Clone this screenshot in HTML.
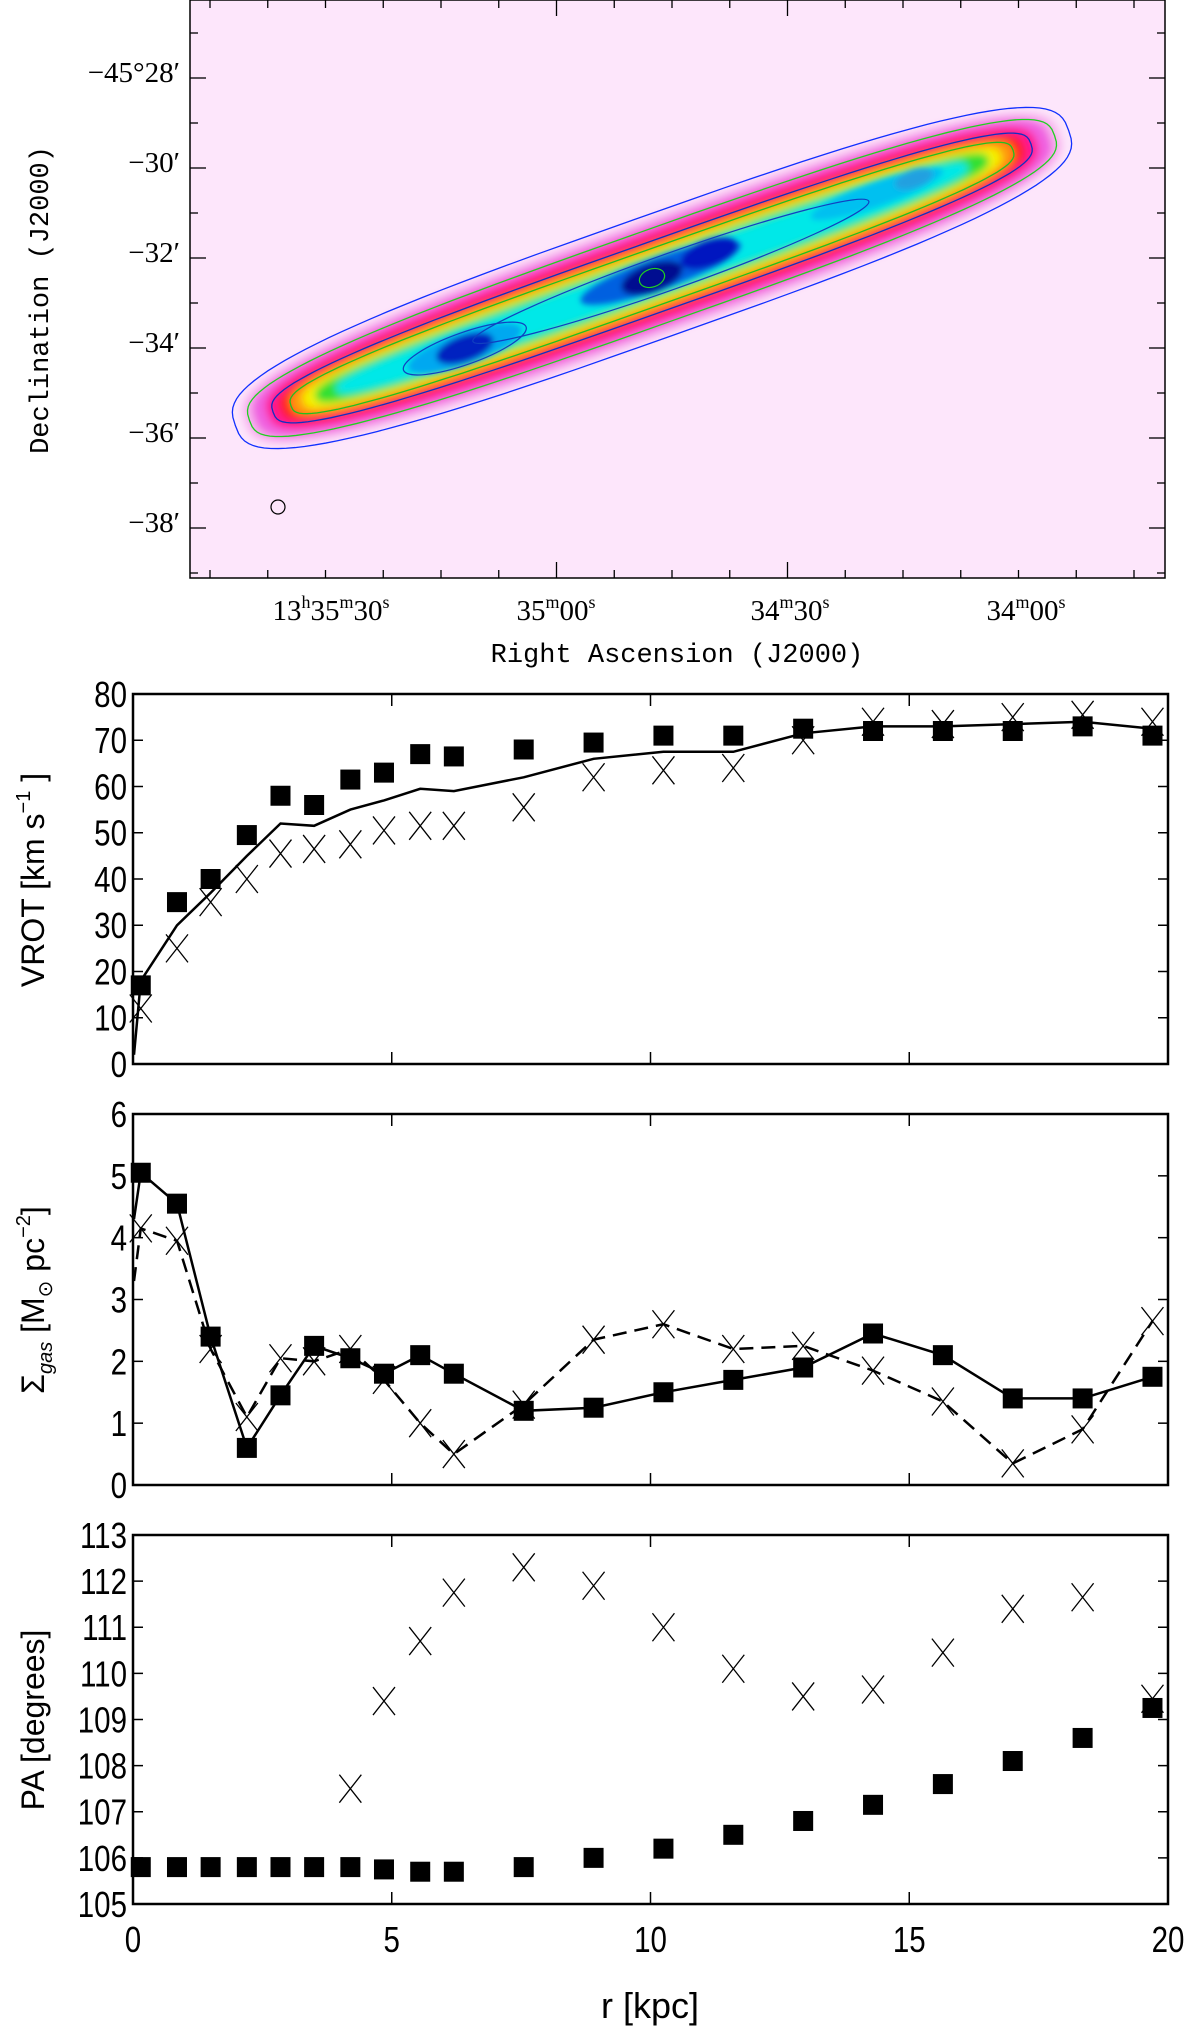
<!DOCTYPE html>
<html><head><meta charset="utf-8">
<style>
html,body{margin:0;padding:0;background:#fff;}
body{width:1200px;height:2034px;overflow:hidden;font-family:"Liberation Sans",sans-serif;}
svg{position:absolute;left:0;top:0;}
</style></head>
<body>
<svg id="fig" width="1200" height="2034" viewBox="0 0 1200 2034" xmlns="http://www.w3.org/2000/svg">
<defs>
 <filter id="blur" x="-20%" y="-80%" width="140%" height="260%"><feGaussianBlur stdDeviation="4"/></filter>
 <filter id="blur2" x="-20%" y="-80%" width="140%" height="260%"><feGaussianBlur stdDeviation="3"/></filter>
 <clipPath id="mapclip"><rect x="190" y="0" width="975" height="578"/></clipPath>
</defs>
<g id="map">
 <rect x="190" y="0" width="975" height="578" fill="#fde6fb"/>
 <g clip-path="url(#mapclip)">
  <g id="galaxy" transform="translate(652,278) rotate(-19.5)">
   <g id="gfill" filter="url(#blur)"></g>
   <g id="gblobs" filter="url(#blur2)">
    <ellipse cx="-200" cy="4" rx="60" ry="16" fill="#00a8f0"/>
    <ellipse cx="-200" cy="4" rx="30" ry="13" fill="#0020c0"/>
    <ellipse cx="10" cy="-2" rx="85" ry="16" fill="#0060e0"/>
    <ellipse cx="0" cy="0" rx="32" ry="14" fill="#000890"/>
    <ellipse cx="62" cy="-4" rx="30" ry="13" fill="#0018c0"/>
    <ellipse cx="240" cy="-4" rx="70" ry="12" fill="#00c0f0"/>
    <ellipse cx="280" cy="-6" rx="20" ry="9" fill="#20a0e0"/>
   </g>
   <g id="gcont"></g>
   <ellipse cx="20" cy="0" rx="210" ry="18" fill="none" stroke="#1040c0" stroke-width="1.2"/>
   <ellipse cx="-200" cy="4" rx="65" ry="16" fill="none" stroke="#1040c0" stroke-width="1.2"/>
   <ellipse cx="0" cy="0" rx="13" ry="9" fill="none" stroke="#20d020" stroke-width="1.2"/>
  </g>
  <circle cx="278" cy="507" r="7" fill="none" stroke="#000" stroke-width="1.2"/>
 </g>
 <rect x="190" y="0" width="975" height="578" fill="none" stroke="#000" stroke-width="1.5"/>
 <g id="mapticks"></g>
 <g font-family="'Liberation Serif',serif" font-size="29" fill="#000">
  <text x="180" y="82" text-anchor="end">−45°28′</text>
  <text x="180" y="172" text-anchor="end">−30′</text>
  <text x="180" y="262" text-anchor="end">−32′</text>
  <text x="180" y="352" text-anchor="end">−34′</text>
  <text x="180" y="442" text-anchor="end">−36′</text>
  <text x="180" y="532" text-anchor="end">−38′</text>
  <text x="331" y="620" text-anchor="middle">13<tspan font-size="18" dy="-12">h</tspan><tspan dy="12">35</tspan><tspan font-size="18" dy="-12">m</tspan><tspan dy="12">30</tspan><tspan font-size="18" dy="-12">s</tspan></text>
  <text x="556" y="620" text-anchor="middle">35<tspan font-size="18" dy="-12">m</tspan><tspan dy="12">00</tspan><tspan font-size="18" dy="-12">s</tspan></text>
  <text x="790" y="620" text-anchor="middle">34<tspan font-size="18" dy="-12">m</tspan><tspan dy="12">30</tspan><tspan font-size="18" dy="-12">s</tspan></text>
  <text x="1026" y="620" text-anchor="middle">34<tspan font-size="18" dy="-12">m</tspan><tspan dy="12">00</tspan><tspan font-size="18" dy="-12">s</tspan></text>
  <text x="677" y="662" text-anchor="middle" font-family="'Liberation Mono',monospace" font-size="27">Right Ascension (J2000)</text>
  <text transform="translate(48,300) rotate(-90)" text-anchor="middle" font-family="'Liberation Mono',monospace" font-size="27">Declination (J2000)</text>
 </g>
</g>
<g id="charts"></g>
</svg>
<script>
// ---- data ----
const radius = [0.15,0.85,1.5,2.2,2.85,3.5,4.2,4.85,5.55,6.2,7.55,8.9,10.25,11.6,12.95,14.3,15.65,17.0,18.35,19.7];
const vrotSquares = [17,35,40,49.5,58,56,61.5,63,67,66.5,68,69.5,71,71,72.5,72,72,72,73,71];
const vrotCrosses = [12,25,35,40,45.5,46.5,47.5,50.5,51.5,51.5,55.5,62,63.5,64,70,74,73.5,75,75.5,74];
const vrotLine = [18,30,37,45,52,51.5,55,57,59.5,59,62,66,67.5,67.5,71.5,73,73,73.5,74,72.5];
const sigmaSquares = [5.05,4.55,2.4,0.6,1.45,2.25,2.05,1.8,2.1,1.8,1.2,1.25,1.5,1.7,1.9,2.45,2.1,1.4,1.4,1.75];
const sigmaCrosses = [4.15,3.95,2.2,1.1,2.05,2.0,2.2,1.7,1.0,0.5,1.3,2.35,2.6,2.2,2.25,1.85,1.35,0.35,0.9,2.65];
const paSquares = [105.8,105.8,105.8,105.8,105.8,105.8,105.8,105.75,105.7,105.7,105.8,106.0,106.2,106.5,106.8,107.15,107.6,108.1,108.6,109.25];
const paCrosses = [null,null,null,null,null,null,107.5,109.4,110.7,111.75,112.3,111.9,111.0,110.1,109.5,109.65,110.45,111.4,111.65,109.45];
const xTicks = [0,5,10,15,20];
const vrotTicks = [0,10,20,30,40,50,60,70,80];
const sigmaTicks = [0,1,2,3,4,5,6];
const paTicks = [105,106,107,108,109,110,111,112,113];

const NS='http://www.w3.org/2000/svg';
function mk(tag, attrs, parent){const e=document.createElementNS(NS,tag);for(const k in attrs)e.setAttribute(k,attrs[k]);parent.appendChild(e);return e;}

// galaxy superellipse layers
function superPath(L,W,n){
  let d='';
  for(let i=0;i<=120;i++){
    const t=i/120*2*Math.PI, c=Math.cos(t), s=Math.sin(t);
    const x=L*Math.sign(c)*Math.pow(Math.abs(c),2/n), y=W*Math.sign(s)*Math.pow(Math.abs(s),2/n);
    d+=(i?'L':'M')+x.toFixed(1)+','+y.toFixed(1);
  }
  return d+'Z';
}
const gfill=document.getElementById('gfill'), gcont=document.getElementById('gcont');
[[432,57,'#f7b4ee'],[422,51,'#f060e0'],[408,44,'#ff1493'],[395,37,'#ff2020'],[383,31,'#ff9a10'],[370,26,'#f5f000'],[357,22,'#30e030'],[335,17,'#00e8e8']]
 .forEach(l=>mk('path',{d:superPath(l[0],l[1],3),fill:l[2]},gfill));
[[442,61,'#1030ff'],[427,47,'#20d020'],[402,35,'#1030c0'],[383,28,'#20c020']]
 .forEach(l=>mk('path',{d:superPath(l[0],l[1],3),fill:'none',stroke:l[2],'stroke-width':1.3},gcont));

const charts=document.getElementById('charts');
const X0=133, X1=1168;
function xs(r){return X0+(r/20)*(X1-X0);}

function panel(name, top, bottom, ymin, ymax, ticks, showX){
  const g=mk('g',{},charts);
  
  
  const ys=v=>bottom-(v-ymin)/(ymax-ymin)*(bottom-top);
  const fr=mk('rect',{x:X0,y:top,width:X1-X0,height:bottom-top,fill:'none',stroke:'#000','stroke-width':2.5},g);
  
  
  ticks.forEach(t=>{
    const y=ys(t);
    mk('line',{x1:X0,x2:X0+10,y1:y,y2:y,stroke:'#000','stroke-width':1.5},g);
    mk('line',{x1:X1-10,x2:X1,y1:y,y2:y,stroke:'#000','stroke-width':1.5},g);
    const tx=mk('text',{x:X0-6,y:y+13,'text-anchor':'end','font-size':36,'font-family':'"Liberation Sans",sans-serif',transform:`translate(${X0-6},0) scale(0.82,1) translate(${-(X0-6)},0)`},g);
    tx.textContent=t;
    
    
  });
  xTicks.forEach(t=>{
    const x=xs(t);
    mk('line',{x1:x,x2:x,y1:top,y2:top+12,stroke:'#000','stroke-width':1.5},g);
    mk('line',{x1:x,x2:x,y1:bottom-12,y2:bottom,stroke:'#000','stroke-width':1.5},g);
    if(showX){
      const tx=mk('text',{x:x,y:bottom+48,'text-anchor':'middle','font-size':36,'font-family':'"Liberation Sans",sans-serif',transform:`translate(${x},0) scale(0.82,1) translate(${-x},0)`},g);
      tx.textContent=t;
      
      
    }
  });
  return {g,ys};
}
function line(p, xsArr, vals, dash, name){
  let d='';
  vals.forEach((v,i)=>{if(v==null)return;d+=(d?'L':'M')+xs(xsArr[i]).toFixed(1)+','+p.ys(v).toFixed(1);});
  const l=mk('path',{d:d,fill:'none',stroke:'#000','stroke-width':2.5,'stroke-dasharray':dash||'none'},p.g);
  
  
}
function squares(p, vals, name){
  vals.forEach((v,i)=>{if(v==null)return;
    const r=mk('rect',{x:xs(radius[i])-10,y:p.ys(v)-10,width:20,height:20,fill:'#000'},p.g);
    
    
  });
}
function crosses(p, vals, name){
  vals.forEach((v,i)=>{if(v==null)return;
    const x=xs(radius[i]), y=p.ys(v);
    const c=mk('path',{d:`M${x-11},${y-14}L${x+11},${y+14}M${x-11},${y+14}L${x+11},${y-14}`,stroke:'#000','stroke-width':1.3,fill:'none'},p.g);
    
    
  });
}
// VROT
const p1=panel('vrot',694,1064,0,80,vrotTicks,false);
line(p1,[0.02].concat(radius),[2].concat(vrotLine),null,'vrot-model-line');
crosses(p1,vrotCrosses,'vrot-cross');
squares(p1,vrotSquares,'vrot-square');
// Sigma
const p2=panel('sigma',1114,1485,0,6,sigmaTicks,false);
line(p2,[0.02].concat(radius),[4.3].concat(sigmaSquares),null,'sigma-solid-line');
line(p2,[0.02].concat(radius),[3.3].concat(sigmaCrosses),'14,8','sigma-dashed-line');
crosses(p2,sigmaCrosses,'sigma-cross');
squares(p2,sigmaSquares,'sigma-square');
// PA
const p3=panel('pa',1535,1904,105,113,paTicks,true);
crosses(p3,paCrosses,'pa-cross');
squares(p3,paSquares,'pa-square');

// axis titles
function ytitle(cy,name,html){
  const t=mk('text',{transform:`translate(44,${cy}) rotate(-90)`,'text-anchor':'middle','font-size':32,'font-family':'"Liberation Sans",sans-serif'},charts);
  t.innerHTML=html;
  
  
}
ytitle(880,'vrot-y-axis-title','VROT [km s<tspan font-size="20" dy="-14">−1</tspan><tspan dy="14"> ]</tspan>');
ytitle(1300,'sigma-y-axis-title','Σ<tspan font-size="20" font-style="italic" dy="8">gas</tspan><tspan dy="-8"> [M</tspan><tspan font-size="20" dy="8">⊙</tspan><tspan dy="-8"> pc</tspan><tspan font-size="20" dy="-14">−2</tspan><tspan dy="14">]</tspan>');
ytitle(1720,'pa-y-axis-title','PA [degrees]');
const xt=mk('text',{x:650,y:2018,'text-anchor':'middle','font-size':36,'font-family':'"Liberation Sans",sans-serif'},charts);
xt.textContent='r [kpc]';



// map ticks
const mt=document.getElementById('mapticks');
const raMajor=[331,554,788,1024];
for(let x=210;x<1165;x+=(1024-331)/12){
  const maj=raMajor.some(m=>Math.abs(m-x)<4);
  mk('line',{x1:x,x2:x,y1:578,y2:578-(maj?16:8),stroke:'#000','stroke-width':1.3},mt);
  mk('line',{x1:x,x2:x,y1:0,y2:(maj?16:8),stroke:'#000','stroke-width':1.3},mt);
}
for(let y=33;y<578;y+=45){
  const maj=Math.round((y-33)/45)%2===1;
  mk('line',{x1:190,x2:190+(maj?16:8),y1:y,y2:y,stroke:'#000','stroke-width':1.3},mt);
  mk('line',{x1:1165,x2:1165-(maj?16:8),y1:y,y2:y,stroke:'#000','stroke-width':1.3},mt);
}
</script>
</body></html>
